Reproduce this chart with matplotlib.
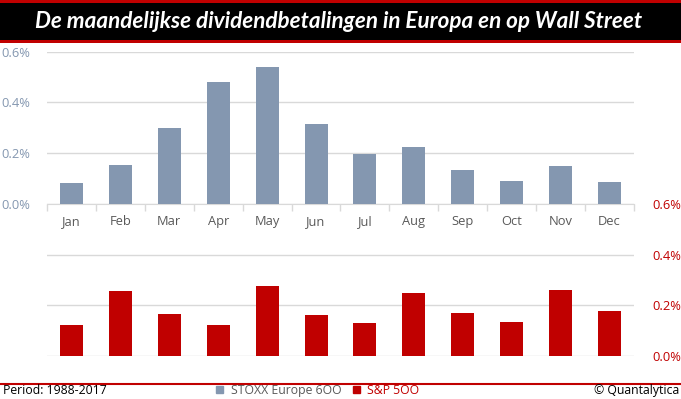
import numpy as np
import matplotlib.pyplot as plt
from matplotlib.patches import Rectangle
from matplotlib.ticker import FuncFormatter

# data (monthly dividend payments, % of index)
months = ['Jan', 'Feb', 'Mar', 'Apr', 'May', 'Jun',
          'Jul', 'Aug', 'Sep', 'Oct', 'Nov', 'Dec']
stoxx = [0.083, 0.153, 0.299, 0.480, 0.539, 0.315,
         0.197, 0.224, 0.134, 0.091, 0.150, 0.087]
sp500 = [0.122, 0.255, 0.165, 0.122, 0.275, 0.161,
         0.129, 0.247, 0.169, 0.133, 0.259, 0.176]
yticks = [0.0, 0.2, 0.4, 0.6]

# colours
BLUE = '#8497B0'
RED = '#C00000'
GRID = '#D9D9D9'
TXT = '#595959'

plt.rcParams['font.family'] = ['Open Sans', 'DejaVu Sans']

W, H = 681, 399
fig = plt.figure(figsize=(W / 100, H / 100), dpi=100)


def px(x0, y0, x1, y1):
    # pixel box (from top-left) -> figure fraction rect
    return [x0 / W, 1 - y1 / H, (x1 - x0) / W, (y1 - y0) / H]


pct = FuncFormatter(lambda v, _: f'{v:.1f}%')
x = np.arange(len(months))

# title band
fig.patches.append(Rectangle((0, 1 - 43 / H), 1, 43 / H, transform=fig.transFigure,
                             facecolor=RED, edgecolor='none'))
fig.patches.append(Rectangle((0, 1 - 40 / H), 1, 37 / H, transform=fig.transFigure,
                             facecolor='black', edgecolor='none'))
fig.text(338.5 / W, 1 - 21.5 / H, 'De maandelijkse dividendbetalingen in Europa en op Wall Street',
         color='white', fontsize=16.2, fontweight='bold', style='italic',
         family=['Lato', 'DejaVu Sans'], ha='center', va='center')

# upper chart: STOXX Europe 600
ax1 = fig.add_axes(px(47, 51.7, 634, 204))
ax1.bar(x, stoxx, width=0.47, color=BLUE, zorder=3)
ax1.set_xlim(-0.5, len(months) - 0.5)
ax1.set_ylim(0, 0.6)
ax1.set_yticks(yticks)
ax1.yaxis.set_major_formatter(pct)
ax1.grid(axis='y', color=GRID, linewidth=1, zorder=0)
ax1.set_xticks(x)
ax1.set_xticklabels(months)
ax1.set_xticks(np.arange(len(months) + 1) - 0.5, minor=True)
ax1.tick_params(axis='x', which='major', length=0, pad=8, labelsize=9.3, labelcolor=TXT)
ax1.tick_params(axis='x', which='minor', length=5, color=GRID, width=1)
ax1.tick_params(axis='y', length=0, pad=12, labelsize=9.3, labelcolor=BLUE)
for s in ['top', 'right', 'left']:
    ax1.spines[s].set_visible(False)
ax1.spines['bottom'].set_color(GRID)
ax1.set_facecolor('none')

# lower chart: S&P 500
ax2 = fig.add_axes(px(47, 204, 634, 356))
ax2.bar(x, sp500, width=0.47, color=RED, zorder=3)
ax2.set_xlim(-0.5, len(months) - 0.5)
ax2.set_ylim(0, 0.6)
ax2.set_yticks(yticks)
ax2.yaxis.set_major_formatter(pct)
ax2.yaxis.tick_right()
ax2.grid(axis='y', color=GRID, linewidth=1, zorder=0)
ax2.yaxis.get_gridlines()[-1].set_visible(False)
ax2.set_xticks([])
ax2.tick_params(axis='y', length=0, pad=13, labelsize=9.3, labelcolor=RED)
for s in ax2.spines.values():
    s.set_visible(False)
ax2.set_facecolor('none')

# footer
fig.add_artist(plt.Line2D([0, 1], [1 - 383.5 / H] * 2, color=RED, linewidth=1.5))
fig.text(3 / W, 1 - 390.5 / H, 'Period: 1988-2017', fontsize=8.8, color='black',
         ha='left', va='center')
fig.text(679 / W, 1 - 390.5 / H, '© Quantalytica', fontsize=8.8, color='black',
         ha='right', va='center')
h1 = Rectangle((0, 0), 1, 1, color=BLUE)
h2 = Rectangle((0, 0), 1, 1, color=RED)
leg = fig.legend([h1, h2], ['STOXX Europe 6OO', 'S&P 5OO'], loc='center',
                 bbox_to_anchor=(318 / W, 1 - 390.5 / H), ncol=2, frameon=False,
                 fontsize=8.8, handlelength=0.55, handleheight=0.55, handletextpad=0.6,
                 columnspacing=1.0, borderpad=0, borderaxespad=0)
leg.get_texts()[0].set_color(TXT)
leg.get_texts()[1].set_color(RED)

fig.savefig('out.png', dpi=100)
